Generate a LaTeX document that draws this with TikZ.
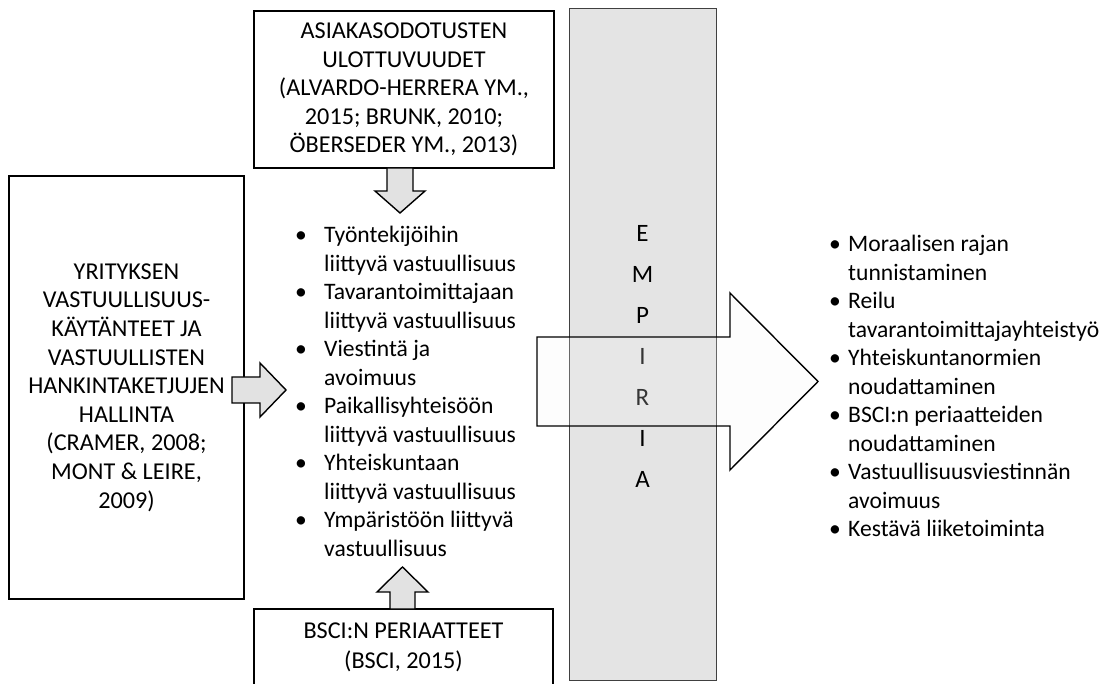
\documentclass[tikz,border=0pt]{standalone}
\usepackage{fontspec}
\setmainfont{Carlito}
\definecolor{barfill}{HTML}{E4E4E4}
\definecolor{bardraw}{HTML}{404040}
\definecolor{arrowfill}{HTML}{E2E2E2}
\definecolor{bigfill}{HTML}{F4F4F4}
\newcommand\mybul[1]{\makebox[#1][l]{•}}
\newcommand\mycont[1]{\hspace*{#1}}
\begin{document}
\begin{tikzpicture}[x=1pt,y=-1pt,
  txt/.style={font=\fontsize{23.6}{28.5}\selectfont},
  box/.style={font=\fontsize{24.2}{28.6}\selectfont, draw=black, line width=1.4pt, fill=white, align=center, inner sep=0pt},
  smallarrow/.style={draw=black, line width=1.4pt, fill=arrowfill, line join=miter},
  bigarrow/.style={draw=black, line width=1.4pt, fill=bigfill, fill opacity=0.22, line join=miter},
  listnode/.style={txt, anchor=base west, inner sep=0pt}]
\useasboundingbox (0,0) rectangle (1120,684);

% boxes
\node[box, minimum width=300pt, minimum height=157pt] (top) at (404,89.5)
  {ASIAKASODOTUSTEN\\ULOTTUVUUDET\\(ALVARDO-HERRERA YM.,\\2015; BRUNK, 2010;\\ÖBERSEDER YM., 2013)};
\node[box, minimum width=235pt, minimum height=423pt] (left) at (126.5,387.5)
  {YRITYKSEN\\VASTUULLISUUS-\\KÄYTÄNTEET JA\\VASTUULLISTEN\\HANKINTAKETJUJEN\\HALLINTA\\(CRAMER, 2008;\\MONT \& LEIRE,\\2009)};
\draw[line width=1.4pt] (254,686) -- (254,609) -- (553,609) -- (553,686);
\node[font=\fontsize{24.2}{30}\selectfont, anchor=base, inner sep=0pt] (bsci) at (403.5,638)
  {\parbox[t]{290pt}{\centering BSCI:N PERIAATTEET\\(BSCI, 2015)}};

% EMPIRIA bar
\node[draw=bardraw, fill=barfill, line width=0.9pt, minimum width=147pt, minimum height=672pt, inner sep=0pt] (bar) at (642.5,344) {};
\node[anchor=base, inner sep=0pt, font=\fontsize{25}{41}\selectfont] (emp) at (642.5,242)
  {\parbox[t]{40pt}{\centering E\\M\\P\\I\\R\\I\\A}};

% middle list
\node[listnode] (mid) at (295,243) {\parbox[t]{260pt}{\raggedright
  \mybul{29pt}Työntekijöihin\\
  \mycont{29pt}liittyvä vastuullisuus\\
  \mybul{29pt}Tavarantoimittajaan\\
  \mycont{29pt}liittyvä vastuullisuus\\
  \mybul{29pt}Viestintä ja\\
  \mycont{29pt}avoimuus\\
  \mybul{29pt}Paikallisyhteisöön\\
  \mycont{29pt}liittyvä vastuullisuus\\
  \mybul{29pt}Yhteiskuntaan\\
  \mycont{29pt}liittyvä vastuullisuus\\
  \mybul{29pt}Ympäristöön liittyvä\\
  \mycont{29pt}vastuullisuus}};

% right list
\node[listnode] (res) at (829,252) {\parbox[t]{300pt}{\raggedright
  \mybul{19pt}Moraalisen rajan\\
  \mycont{19pt}tunnistaminen\\
  \mybul{19pt}Reilu\\
  \mycont{19pt}tavarantoimittajayhteistyö\\
  \mybul{19pt}Yhteiskuntanormien\\
  \mycont{19pt}noudattaminen\\
  \mybul{19pt}BSCI:n periaatteiden\\
  \mycont{19pt}noudattaminen\\
  \mybul{19pt}Vastuullisuusviestinnän\\
  \mycont{19pt}avoimuus\\
  \mybul{19pt}Kestävä liiketoiminta}};

% small block arrows
\draw[smallarrow] (387,168) -- (413,168) -- (413,191) -- (425,191) -- (400,213) -- (375,191) -- (387,191) -- cycle;
\draw[smallarrow] (390,609) -- (390,592) -- (377,592) -- (402.5,567) -- (428,592) -- (415,592) -- (415,609) -- cycle;
\draw[smallarrow] (232,377) -- (260,377) -- (260,363) -- (286,390) -- (260,417) -- (260,403) -- (232,403) -- cycle;

% big arrow through EMPIRIA
\draw[bigarrow] (537,337) -- (730,337) -- (730,293) -- (818,381.5) -- (730,470) -- (730,426) -- (537,426) -- cycle;
\end{tikzpicture}
\end{document}
